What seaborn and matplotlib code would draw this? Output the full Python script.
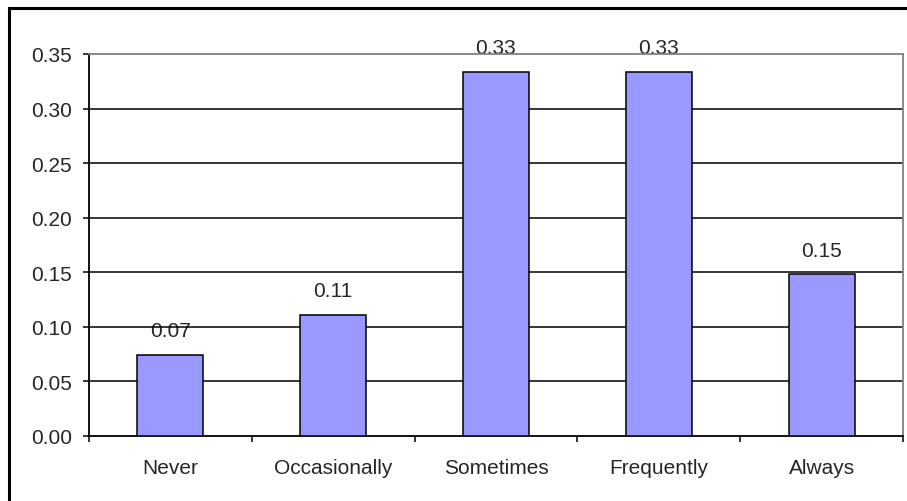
import numpy as np
import pandas as pd
import seaborn as sns
import matplotlib.pyplot as plt
from matplotlib.patches import Rectangle

categories = ['Never', 'Occasionally', 'Sometimes', 'Frequently', 'Always']
shares = [2/27, 3/27, 9/27, 9/27, 4/27]
value_labels = ['0.07', '0.11', '0.33', '0.33', '0.15']
y_ticks = [0.00, 0.05, 0.10, 0.15, 0.20, 0.25, 0.30, 0.35]

df = pd.DataFrame({'Response': categories, 'Share': shares})

sns.set_style('white')
plt.rcParams['font.family'] = ['Liberation Sans', 'DejaVu Sans']
fs = 15

fig = plt.figure(figsize=(9.07, 5.02), dpi=100)
ax = fig.add_axes([89/907, 65/502, 814/907, 382/502])

sns.barplot(data=df, x='Response', y='Share', color='#9999FF', saturation=1,
            edgecolor='black', linewidth=1.1, width=0.405, ax=ax, zorder=3)

ax.set_xlim(-0.5, 4.5)
ax.set_ylim(0, 0.35)
ax.set_yticks(y_ticks)
ax.set_yticklabels([f'{v:.2f}' for v in y_ticks], fontsize=fs)
for v in y_ticks[1:-1]:
    ax.axhline(v, color='black', lw=1.1, zorder=1)

# excel style: ticks between categories, labels in the middle
ax.set_xticks(np.arange(-0.5, 5, 1))
ax.set_xticklabels([])
ax.set_xticks(range(len(categories)), minor=True)
ax.set_xticklabels(categories, minor=True, fontsize=fs)
ax.tick_params(axis='x', which='major', direction='out', length=4.5, width=1.1,
               color='black', bottom=True)
ax.tick_params(axis='x', which='minor', length=0, pad=16)
ax.tick_params(axis='y', direction='out', length=4.5, width=1.1, color='black',
               left=True, pad=8)
ax.set_xlabel('')
ax.set_ylabel('')

for s in ['left', 'bottom']:
    ax.spines[s].set_color('black')
    ax.spines[s].set_linewidth(1.3)
for s in ['top', 'right']:
    ax.spines[s].set_color('#808080')
    ax.spines[s].set_linewidth(1.3)

for i, (v, lab) in enumerate(zip(shares, value_labels)):
    ax.annotate(lab, (i, v), xytext=(0, 13.5), textcoords='offset points',
                ha='center', va='baseline', fontsize=fs, zorder=0.5)

fig.patches.append(Rectangle((9/907, -0.1), 1.1, (502-9)/502 + 0.1,
                             transform=fig.transFigure, fill=False,
                             edgecolor='black', linewidth=2.2))

fig.savefig('out.png', dpi=100)
